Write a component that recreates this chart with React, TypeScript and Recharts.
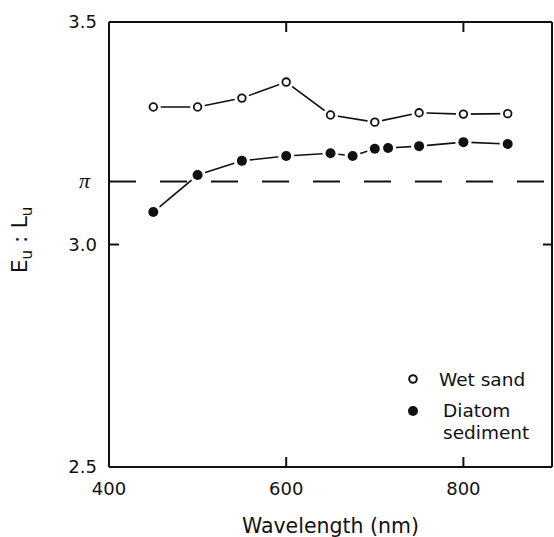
import { LineChart, Line, XAxis, YAxis, ReferenceLine, Legend } from 'recharts';

const wetSandWl = [450, 500, 550, 600, 650, 700, 750, 800, 850];
const wetSandRatio = [3.309, 3.309, 3.329, 3.365, 3.291, 3.275, 3.296, 3.293, 3.294];

const diatomWl = [450, 500, 550, 600, 650, 675, 700, 715, 750, 800, 850];
const diatomRatio = [3.073, 3.156, 3.188, 3.199, 3.205, 3.199, 3.215, 3.217, 3.221, 3.23, 3.226];

const xTicks = [400, 600, 800];
const yTicks = [2.5, 3.0, Math.PI, 3.5];
const seriesNames = ['Wet sand', 'Diatom sediment'];

const wetSand = wetSandWl.map((wl, i) => ({ wl, ratio: wetSandRatio[i] }));
const diatom = diatomWl.map((wl, i) => ({ wl, ratio: diatomRatio[i] }));

const FONT = '"DejaVu Sans", sans-serif';
const INK = '#111';
const TICK_LEN = 10;

const OpenDot = (props: any) => {
  const { cx, cy } = props;
  if (cx == null || cy == null) return null;
  return (
    <g>
      <circle cx={cx} cy={cy} r={7.5} fill="#fff" />
      <circle cx={cx} cy={cy} r={3.8} fill="#fff" stroke={INK} strokeWidth={1.8} />
    </g>
  );
};

const FilledDot = (props: any) => {
  const { cx, cy } = props;
  if (cx == null || cy == null) return null;
  return (
    <g>
      <circle cx={cx} cy={cy} r={8} fill="#fff" />
      <circle cx={cx} cy={cy} r={5} fill={INK} />
    </g>
  );
};

// left axis: tickMargin 12, inward tick drawn here
const LeftTick = (props: any) => {
  const { x, y, payload } = props;
  const isPi = Math.abs(payload.value - Math.PI) < 1e-6;
  const ax = x + 12;
  return (
    <g>
      {!isPi && <line x1={ax} y1={y} x2={ax + TICK_LEN} y2={y} stroke={INK} strokeWidth={2} />}
      {isPi ? (
        <text x={x - 7} y={y} dy="0.3em" textAnchor="end" fontFamily='"Liberation Serif", serif'
          fontStyle="italic" fontSize={22} fill={INK}>π</text>
      ) : (
        <text x={x} y={y} dy="0.36em" textAnchor="end" fontFamily={FONT} fontSize={18} fill={INK}>
          {payload.value.toFixed(1)}
        </text>
      )}
    </g>
  );
};

// bottom axis: tickMargin 15
const BottomTick = (props: any) => {
  const { x, y, payload } = props;
  const ay = y - 15;
  return (
    <g>
      <line x1={x} y1={ay} x2={x} y2={ay - TICK_LEN} stroke={INK} strokeWidth={2} />
      <text x={x} y={y} dy="0.71em" textAnchor="middle" fontFamily={FONT} fontSize={18} fill={INK}>
        {payload.value}
      </text>
    </g>
  );
};

const TopTick = (props: any) => (
  <line x1={props.x} y1={props.y} x2={props.x} y2={props.y + TICK_LEN} stroke={INK} strokeWidth={2} />
);

const RightTick = (props: any) => (
  <line x1={props.x} y1={props.y} x2={props.x - 9} y2={props.y} stroke={INK} strokeWidth={2} />
);

const YLabel = (props: any) => {
  const { viewBox } = props;
  const cx = viewBox.x + 27;
  const cy = 240;
  return (
    <text x={cx} y={cy} transform={`rotate(-90, ${cx}, ${cy})`} textAnchor="middle"
      fontFamily={FONT} fontSize={22} fill={INK}>
      E<tspan fontSize={15} dy={5}>u</tspan>
      <tspan dy={-5}> : L</tspan>
      <tspan fontSize={15} dy={5}>u</tspan>
    </text>
  );
};

const LegendBox = () => (
  <svg width={154} height={90} style={{ display: 'block' }}>
    <circle cx={13} cy={19} r={3.8} fill="#fff" stroke={INK} strokeWidth={2} />
    <text x={39} y={26} fontFamily={FONT} fontSize={18.5} fill={INK}>{seriesNames[0]}</text>
    <circle cx={13} cy={51} r={5} fill={INK} />
    <text x={43} y={57} fontFamily={FONT} fontSize={18.5} fill={INK}>{seriesNames[1].split(' ')[0]}</text>
    <text x={43} y={79} fontFamily={FONT} fontSize={18.5} fill={INK}>{seriesNames[1].split(' ')[1]}</text>
  </svg>
);

const frame = { stroke: INK, strokeWidth: 2 };

export default function App() {
  return (
    <div style={{ position: 'absolute', left: 0, top: 0 }}>
      <LineChart width={554} height={537} margin={{ top: 21, right: 1, left: 0, bottom: 0 }}>
        <XAxis xAxisId="b" dataKey="wl" type="number" domain={[400, 900]} ticks={xTicks}
          orientation="bottom" height={70} tickSize={0} tickMargin={15} tickLine={false}
          axisLine={frame} tick={<BottomTick />}
          label={{ value: 'Wavelength (nm)', position: 'insideBottom', offset: 4, fontFamily: FONT, fontSize: 20.5, fill: INK }} />
        <XAxis xAxisId="t" dataKey="wl" type="number" domain={[400, 900]} ticks={[600, 800]}
          orientation="top" height={1} tickSize={0} tickMargin={0} tickLine={false}
          axisLine={frame} tick={<TopTick />} />
        <YAxis yAxisId="l" type="number" domain={[2.5, 3.5]} ticks={yTicks} width={109}
          orientation="left" tickSize={0} tickMargin={12} tickLine={false} tick={<LeftTick />}
          axisLine={frame} label={<YLabel />} />
        <YAxis yAxisId="r" type="number" domain={[2.5, 3.5]} ticks={[3.0]} width={1}
          orientation="right" tickSize={0} tickMargin={0} tickLine={false} tick={<RightTick />}
          axisLine={frame} />
        <ReferenceLine xAxisId="b" yAxisId="l" y={Math.PI} stroke={INK} strokeWidth={2} strokeDasharray="27 24" />
        {/* invisible series so the top/right frame axes have data and draw their ticks */}
        <Line xAxisId="t" yAxisId="r" data={wetSand} dataKey="ratio" stroke="none" dot={false}
          activeDot={false} legendType="none" isAnimationActive={false} />
        <Line xAxisId="b" yAxisId="l" data={wetSand} dataKey="ratio" name={seriesNames[0]}
          stroke={INK} strokeWidth={1.6} dot={<OpenDot />} activeDot={false} isAnimationActive={false} />
        <Line xAxisId="b" yAxisId="l" data={diatom} dataKey="ratio" name={seriesNames[1]}
          stroke={INK} strokeWidth={1.6} dot={<FilledDot />} activeDot={false} isAnimationActive={false} />
        <Legend layout="vertical" align="center" verticalAlign="middle" content={<LegendBox />}
          wrapperStyle={{ position: 'absolute', left: 400, top: 360, width: 154, height: 90 }} />
      </LineChart>
    </div>
  );
}
